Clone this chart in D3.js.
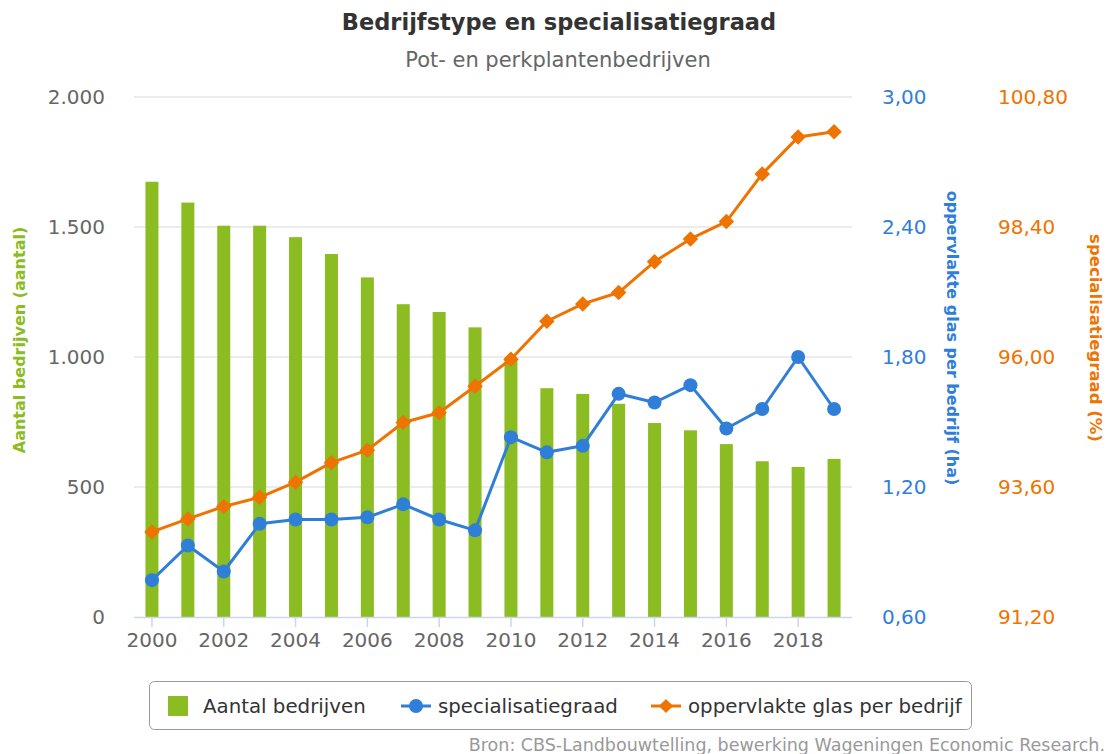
<!DOCTYPE html>
<html>
<head>
<meta charset="utf-8">
<script src="https://cdn.jsdelivr.net/npm/d3@7/dist/d3.min.js"></script>
<style>
  body { margin: 0; background: #fff; }
  svg { font-family: 'DejaVu Sans', sans-serif; }
</style>
</head>
<body>
<div id="chart"></div>
<script>
// data
const years = d3.range(2000, 2020).map(String);
const aantalBedrijven = [1674, 1594, 1505, 1505, 1461, 1396, 1306, 1203, 1173, 1114,
  992, 880, 858, 820, 746, 718, 665, 599, 577, 608];
const specialisatiegraad = [0.77, 0.93, 0.81, 1.03, 1.05, 1.05, 1.06, 1.12, 1.05, 1.00,
  1.43, 1.36, 1.39, 1.63, 1.59, 1.67, 1.47, 1.56, 1.80, 1.56];
const oppervlakteGlas = [92.77, 93.01, 93.24, 93.41, 93.69, 94.05, 94.28, 94.79, 94.97, 95.46,
  95.96, 96.66, 96.98, 97.19, 97.76, 98.18, 98.50, 99.38, 100.06, 100.16];
const leftTicks = [0, 500, 1000, 1500, 2000];
const blueTicks = [0.6, 1.2, 1.8, 2.4, 3.0];
const orangeTicks = [91.2, 93.6, 96.0, 98.4, 100.8];
const xLabels = years.filter((d, i) => i % 2 === 0);

const width = 1111, height = 754;
const margin = { top: 97, bottom: 137, left: 134, right: 259 };
const green = '#8bbc21', blue = '#2f7ed8', orange = '#ef7300';
const tickFont = '20px';

const nl = d3.formatLocale({ decimal: ',', thousands: '.', grouping: [3], currency: ['€', ''] });
const fmtInt = nl.format(',.0f');
const fmtDec = nl.format('.2f');

const svg = d3.select('#chart')
  .append('svg')
  .attr('width', width)
  .attr('height', height);

const plotW = width - margin.left - margin.right;
const plotH = height - margin.top - margin.bottom;

const x = d3.scaleBand().domain(years).range([margin.left, margin.left + plotW]).padding(0);
const cx = d => x(d) + x.bandwidth() / 2;
const yLeft = d3.scaleLinear().domain([0, 2000]).range([margin.top + plotH, margin.top]);
const yBlue = d3.scaleLinear().domain([0.6, 3.0]).range([margin.top + plotH, margin.top]);
const yOrange = d3.scaleLinear().domain([91.2, 100.8]).range([margin.top + plotH, margin.top]);

// title
svg.append('text')
  .attr('x', 559).attr('y', 30)
  .attr('text-anchor', 'middle')
  .style('font-size', '22.5px').style('font-weight', 'bold').style('fill', '#333')
  .text('Bedrijfstype en specialisatiegraad');
svg.append('text')
  .attr('x', 558).attr('y', 67)
  .attr('text-anchor', 'middle')
  .style('font-size', '21px').style('fill', '#666')
  .text('Pot- en perkplantenbedrijven');

// gridlines
svg.append('g')
  .selectAll('line')
  .data(leftTicks.filter(d => d > 0))
  .join('line')
  .attr('x1', margin.left).attr('x2', margin.left + plotW)
  .attr('y1', d => yLeft(d)).attr('y2', d => yLeft(d))
  .attr('stroke', '#e6e6e6').attr('stroke-width', 1.5);

// left axis
const leftAxis = svg.append('g')
  .attr('transform', `translate(${margin.left - 29},0)`)
  .call(d3.axisLeft(yLeft).tickValues(leftTicks).tickFormat(fmtInt).tickSize(0).tickPadding(0));
leftAxis.select('.domain').remove();
leftAxis.selectAll('text')
  .style('font-size', tickFont).style('fill', '#666').style('font-family', 'DejaVu Sans');

// blue axis
const blueAxis = svg.append('g')
  .attr('transform', `translate(${margin.left + plotW + 30},0)`)
  .call(d3.axisRight(yBlue).tickValues(blueTicks).tickFormat(fmtDec).tickSize(0).tickPadding(0));
blueAxis.select('.domain').remove();
blueAxis.selectAll('text')
  .style('font-size', tickFont).style('fill', blue).style('font-family', 'DejaVu Sans');

// orange axis
const orangeAxis = svg.append('g')
  .attr('transform', `translate(${margin.left + plotW + 146},0)`)
  .call(d3.axisRight(yOrange).tickValues(orangeTicks).tickFormat(fmtDec).tickSize(0).tickPadding(0));
orangeAxis.select('.domain').remove();
orangeAxis.selectAll('text')
  .style('font-size', tickFont).style('fill', orange).style('font-family', 'DejaVu Sans');

// axis titles
svg.append('text')
  .attr('transform', 'translate(19,340) rotate(-90)')
  .attr('text-anchor', 'middle').attr('dy', '0.35em')
  .style('font-size', '16px').style('font-weight', 'bold').style('fill', green)
  .text('Aantal bedrijven (aantal)');
svg.append('text')
  .attr('transform', 'translate(953,338) rotate(90)')
  .attr('text-anchor', 'middle').attr('dy', '0.35em')
  .style('font-size', '16px').style('font-weight', 'bold').style('fill', blue)
  .text('oppervlakte glas per bedrijf (ha)');
svg.append('text')
  .attr('transform', 'translate(1096,338) rotate(90)')
  .attr('text-anchor', 'middle').attr('dy', '0.35em')
  .style('font-size', '16.5px').style('font-weight', 'bold').style('fill', orange)
  .text('specialisatiegraad (%)');

// bars
const barW = 13;
svg.append('g')
  .selectAll('rect')
  .data(years)
  .join('rect')
  .attr('x', d => cx(d) - barW / 2)
  .attr('y', (d, i) => yLeft(aantalBedrijven[i]))
  .attr('width', barW)
  .attr('height', (d, i) => yLeft(0) - yLeft(aantalBedrijven[i]))
  .attr('fill', green);

// x axis
const xAxis = svg.append('g')
  .attr('transform', `translate(0,${margin.top + plotH})`)
  .call(d3.axisBottom(x).tickValues(xLabels).tickSize(10).tickPadding(6));
xAxis.select('.domain').attr('d', `M${margin.left},0.5H${margin.left + plotW}`)
  .attr('stroke', '#ccd6eb').attr('stroke-width', 1.5);
xAxis.selectAll('.tick line').attr('stroke', '#ccd6eb').attr('stroke-width', 1.5);
xAxis.selectAll('text')
  .style('font-size', tickFont).style('fill', '#666').style('font-family', 'DejaVu Sans');

// orange line (oppervlakte glas per bedrijf)
const orangeLine = d3.line().x((d, i) => cx(years[i])).y(d => yOrange(d));
svg.append('path')
  .datum(oppervlakteGlas)
  .attr('d', orangeLine)
  .attr('fill', 'none').attr('stroke', orange).attr('stroke-width', 3)
  .attr('stroke-linejoin', 'round');
svg.append('g')
  .selectAll('path')
  .data(oppervlakteGlas)
  .join('path')
  .attr('d', d3.symbol(d3.symbolSquare, 120))
  .attr('transform', (d, i) => `translate(${cx(years[i])},${yOrange(d)}) rotate(45)`)
  .attr('fill', orange);

// blue line (specialisatiegraad)
const blueLine = d3.line().x((d, i) => cx(years[i])).y(d => yBlue(d));
svg.append('path')
  .datum(specialisatiegraad)
  .attr('d', blueLine)
  .attr('fill', 'none').attr('stroke', blue).attr('stroke-width', 3)
  .attr('stroke-linejoin', 'round');
svg.append('g')
  .selectAll('circle')
  .data(specialisatiegraad)
  .join('circle')
  .attr('cx', (d, i) => cx(years[i]))
  .attr('cy', d => yBlue(d))
  .attr('r', 7)
  .attr('fill', blue);

// legend
const legend = svg.append('g');
legend.append('rect')
  .attr('x', 149.5).attr('y', 681.5)
  .attr('width', 822).attr('height', 48)
  .attr('rx', 5)
  .attr('fill', '#fff').attr('stroke', '#999');
const ly = 706;
legend.append('rect')
  .attr('x', 168).attr('y', ly - 10).attr('width', 20).attr('height', 20)
  .attr('fill', green);
legend.append('line')
  .attr('x1', 401).attr('x2', 431).attr('y1', ly).attr('y2', ly)
  .attr('stroke', blue).attr('stroke-width', 3);
legend.append('circle').attr('cx', 416).attr('cy', ly).attr('r', 7).attr('fill', blue);
legend.append('line')
  .attr('x1', 651).attr('x2', 681).attr('y1', ly).attr('y2', ly)
  .attr('stroke', orange).attr('stroke-width', 3);
legend.append('path')
  .attr('d', d3.symbol(d3.symbolSquare, 100))
  .attr('transform', `translate(666,${ly}) rotate(45)`)
  .attr('fill', orange);
const legendItems = [
  { label: 'Aantal bedrijven', x: 203 },
  { label: 'specialisatiegraad', x: 438 },
  { label: 'oppervlakte glas per bedrijf', x: 688 }
];
legend.selectAll('text.item')
  .data(legendItems)
  .join('text')
  .attr('class', 'item')
  .attr('x', d => d.x).attr('y', ly).attr('dy', '0.35em')
  .style('font-size', '19.8px').style('fill', '#333')
  .text(d => d.label);

// source
svg.append('text')
  .attr('x', 1105).attr('y', 751)
  .attr('text-anchor', 'end')
  .style('font-size', '17.5px').style('fill', '#999')
  .text('Bron: CBS-Landbouwtelling, bewerking Wageningen Economic Research.');
</script>
</body>
</html>
